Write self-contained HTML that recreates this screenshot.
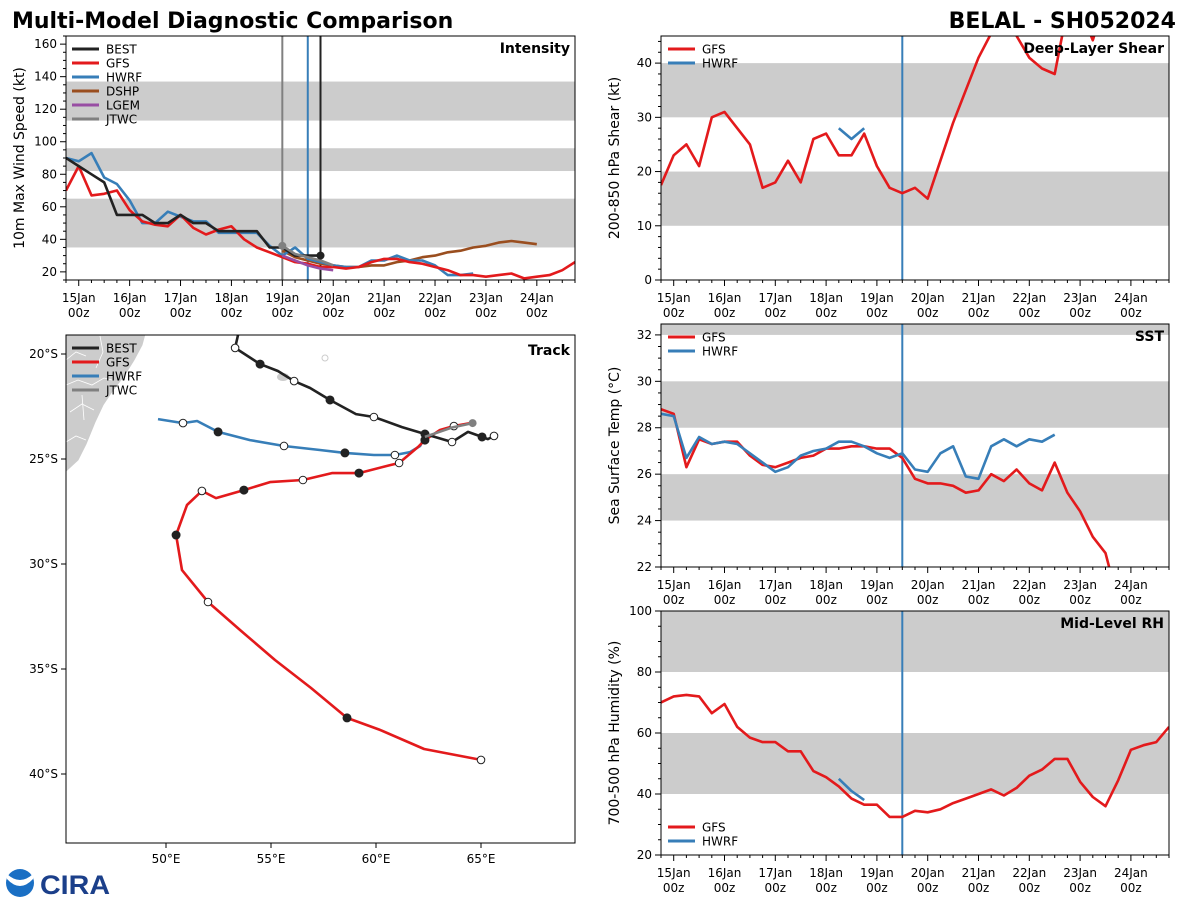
<!DOCTYPE html>
<html><head><meta charset="utf-8"><style>
body{margin:0;background:#fff;}
svg{display:block;font-family:"DejaVu Sans","Liberation Sans",sans-serif;}
</style></head><body>
<svg id="fig" width="1200" height="900" viewBox="0 0 1200 900" xmlns="http://www.w3.org/2000/svg">
<text x="12" y="28" font-size="22" font-weight="bold" font-family="DejaVu Sans, sans-serif">Multi-Model Diagnostic Comparison</text>
<text x="1176" y="28" font-size="22" font-weight="bold" text-anchor="end" font-family="DejaVu Sans, sans-serif">BELAL - SH052024</text>
<g>
<circle cx="20" cy="883" r="14" fill="#1a6fc4"/>
<path d="M7,879 Q20,893 33,879 L33,874 Q20,886 7,874 Z" fill="#fff"/>
<text x="40" y="894" font-size="27" font-weight="bold" fill="#1b3f8a" font-family="Liberation Sans, sans-serif" textLength="70" lengthAdjust="spacingAndGlyphs">CIRA</text>
</g>
</svg>
<script>
// ---------------- data ----------------
const dayLabels = ["15Jan","16Jan","17Jan","18Jan","19Jan","20Jan","21Jan","22Jan","23Jan","24Jan"];
const intBest = [90,85,80,75,55,55,55,50,50,55,50,50,45,45,45,45,35,35,30,30,30];
const intGfs = [70,85,67,68,70,58,51,49,48,55,47,43,46,48,40,35,32,29,26,25,23,23,22,23,26,28,28,26,25,23,21,18,18,17,18,19,16,17,18,21,26];
const intHwrf = [90,88,93,78,74,64,50,50,57,54,51,51,44,44,44,44,36,30,35,28,26,24,23,23,27,27,30,27,27,24,18,18,19];
const intDshp = [33,29,27,25,24,23,23,24,24,26,27,29,30,32,33,35,36,38,39,38,37];
const intLgem = [30,27,24,22,21];
const intJtwc = [36,31,29,27,24];
const shearGfs = [17.5,23,25,21,30,31,28,25,17,18,22,18,26,27,23,23,27,21,17,16,17,15,22,29,35,41,45.5,50,45,41,39,38,50,50,44.2,52,52,52,52,52,52];
const shearHwrf = [28,26,28];
const sstGfs = [28.8,28.6,26.3,27.5,27.3,27.4,27.4,26.8,26.4,26.3,26.5,26.7,26.8,27.1,27.1,27.2,27.2,27.1,27.1,26.7,25.8,25.6,25.6,25.5,25.2,25.3,26.0,25.7,26.2,25.6,25.3,26.5,25.2,24.4,23.3,22.6,20.5,20.5,20.5,20.5,20.5];
const sstHwrf = [28.6,28.5,26.7,27.6,27.3,27.4,27.3,26.9,26.5,26.1,26.3,26.8,27.0,27.1,27.4,27.4,27.2,26.9,26.7,26.9,26.2,26.1,26.9,27.2,25.9,25.8,27.2,27.5,27.2,27.5,27.4,27.7];
const rhGfs = [70,72,72.5,72,66.5,69.5,62,58.5,57,57,54,54,47.5,45.5,42.5,38.5,36.5,36.5,32.5,32.5,34.5,34,35,37,38.5,40,41.5,39.5,42,46,48,51.5,51.5,44,39,36,44.5,54.5,56,57,62];
const rhHwrf = [45,41,38];
const bestLon = [53.43,53.29,54.48,55.33,56.10,56.86,57.81,59.05,59.90,61.24,62.33,63.62,64.38,65.05,65.33,65.62];
const bestLat = [19.10,19.71,20.48,20.81,21.29,21.62,22.19,22.86,23.00,23.48,23.81,24.19,23.71,23.95,24.05,23.90];
const bestMark = [0,1,2,0,1,0,2,0,1,0,2,1,0,2,0,1];
const hwrfLon = [49.62,50.81,51.48,52.48,54.00,55.62,57.33,58.52,59.90,60.90,61.62,62.10,62.33];
const hwrfLat = [23.10,23.29,23.19,23.71,24.10,24.38,24.57,24.71,24.81,24.81,24.67,24.38,23.95];
const hwrfMark = [0,1,0,2,0,1,0,2,0,1,0,0,0];
const gfsLon = [64.48,63.71,63.05,62.33,62.00,61.10,60.67,59.19,57.90,56.52,54.95,53.71,52.38,51.71,51.00,50.48,50.76,52.00,53.52,55.19,56.90,58.62,60.19,62.29,65.00];
const gfsLat = [23.29,23.43,23.62,24.10,24.43,25.19,25.29,25.67,25.67,26.00,26.10,26.48,26.86,26.52,27.19,28.62,30.29,31.81,33.14,34.57,35.90,37.33,37.90,38.81,39.33];
const gfsMark = [0,1,0,2,0,1,0,2,0,1,0,2,0,1,0,2,0,1,0,0,0,2,0,0,1];
const jtwcLon = [62.33,63.05,63.62,64.60];
const jtwcLat = [23.95,23.70,23.50,23.29];
const lonTicks = [50,55,60,65];
const latTicks = [20,25,30,35,40];

// ---------------- helpers ----------------
const svg = document.getElementById('fig');
const NS = 'http://www.w3.org/2000/svg';
function mk(tag, name, attrs, parent) {
  const el = document.createElementNS(NS, tag);
  
  
  for (const k in attrs) el.setAttribute(k, attrs[k]);
  (parent || svg).appendChild(el);
  return el;
}
function txt(name, x, y, s, attrs, parent) {
  const el = mk('text', name, Object.assign({x: x, y: y, 'font-size': 12}, attrs || {}), parent);
  el.textContent = s;
  return el;
}
const C = {best:'#222222', gfs:'#e31a1c', hwrf:'#377eb8', dshp:'#9a4e1f', lgem:'#984ea3', jtwc:'#808080'};
let clipId = 0;

function tsPanel(p) {
  const g = mk('g', p.name, {});
  const xs = d => p.x0 + (d + 0.25) / 10 * (p.x1 - p.x0);
  const ys = v => p.y1 - (v - p.ymin) / (p.ymax - p.ymin) * (p.y1 - p.y0);
  p.xs = xs; p.ys = ys;
  const cid = 'clip' + (clipId++);
  const cp = mk('clipPath', 'clip-region', {id: cid}, g);
  mk('rect', 'clip-rect', {x: p.x0, y: p.y0, width: p.x1 - p.x0, height: p.y1 - p.y0}, cp);
  p.bands.forEach(b => {
    const t = ys(Math.min(b[1], p.ymax)), bt = ys(b[0]);
    mk('rect', 'threshold-band', {x: p.x0, y: t, width: p.x1 - p.x0, height: bt - t, fill: '#cccccc'}, g);
  });
  const plot = mk('g', 'plot-area', {'clip-path': 'url(#' + cid + ')'}, g);
  p.plot = plot;
  for (let i = -1; i <= 40; i++) {
    const d = i * 0.25;
    const x = xs(d);
    if (x < p.x0 - 0.5 || x > p.x1 + 0.5) continue;
    const major = i % 4 === 0;
    mk('line', major ? 'x-major-tick' : 'x-minor-tick', {x1: x, x2: x, y1: p.y1, y2: p.y1 + (major ? 6 : 3), stroke: '#000', 'stroke-width': 1}, g);
    if (major) {
      txt('x-tick-date', x, p.y1 + 22, dayLabels[i / 4], {'text-anchor': 'middle'}, g);
      txt('x-tick-hour', x, p.y1 + 37, '00z', {'text-anchor': 'middle'}, g);
    }
  }
  for (let v = p.ymin; v <= p.ymax + 1e-6; v += p.minor) {
    const vv = Math.round(v * 100) / 100;
    const y = ys(vv);
    const major = Math.abs((vv - p.majorStart) / p.major - Math.round((vv - p.majorStart) / p.major)) < 1e-6 && vv >= p.majorStart;
    mk('line', major ? 'y-major-tick' : 'y-minor-tick', {x1: p.x0, x2: p.x0 - (major ? 6 : 3), y1: y, y2: y, stroke: '#000', 'stroke-width': 1}, g);
    if (major) txt('y-tick-label', p.x0 - 9, y + 4, String(vv), {'text-anchor': 'end'}, g);
  }
  mk('rect', 'axes-frame', {x: p.x0, y: p.y0, width: p.x1 - p.x0, height: p.y1 - p.y0, fill: 'none', stroke: '#000', 'stroke-width': 1}, g);
  const cy = (p.y0 + p.y1) / 2, lx = p.x0 - 42;
  txt('y-axis-title', lx, cy, p.ytitle, {'text-anchor': 'middle', 'font-size': 14, transform: 'rotate(-90 ' + lx + ' ' + cy + ')'}, g);
  txt('panel-title', p.x1 - 5, p.y0 + 17, p.title, {'text-anchor': 'end', 'font-size': 14, 'font-weight': 'bold', 'font-family': 'DejaVu Sans, sans-serif'}, g);
  return p;
}
function series(p, name, vals, start, color) {
  const pts = vals.map((v, i) => p.xs(start + i * 0.25).toFixed(1) + ',' + p.ys(v).toFixed(1)).join(' ');
  mk('polyline', name, {points: pts, fill: 'none', stroke: color, 'stroke-width': 2.6, 'stroke-linejoin': 'round'}, p.plot);
}
function vline(p, name, d, color) {
  const x = p.xs(d);
  mk('line', name, {x1: x, x2: x, y1: p.y0, y2: p.y1, stroke: color, 'stroke-width': 2}, p.plot);
}
function legend(parent, x, y, items) {
  const g = mk('g', 'legend', {}, parent);
  items.forEach((it, i) => {
    const yy = y + i * 14;
    const e = mk('g', 'legend-entry', {}, g);
    mk('line', 'legend-swatch', {x1: x, x2: x + 27, y1: yy, y2: yy, stroke: it[1], 'stroke-width': 3}, e);
    txt('legend-label', x + 34, yy + 4.5, it[0], {}, e);
  });
}

// ---------------- intensity ----------------
const PI = tsPanel({name: 'intensity-panel', x0: 66, x1: 575, y0: 36, y1: 280, ymin: 15, ymax: 165, minor: 5, major: 20, majorStart: 20,
  bands: [[35, 65], [82, 96], [113, 137]], ytitle: '10m Max Wind Speed (kt)', title: 'Intensity'});
vline(PI, 'jtwc-init-line', 4.0, '#808080');
vline(PI, 'hwrf-init-line', 4.5, C.hwrf);
vline(PI, 'best-end-line', 4.75, C.best);
series(PI, 'dshp-line', intDshp, 4.0, C.dshp);
series(PI, 'hwrf-line', intHwrf, -0.25, C.hwrf);
series(PI, 'gfs-line', intGfs, -0.25, C.gfs);
series(PI, 'lgem-line', intLgem, 4.0, C.lgem);
series(PI, 'best-line', intBest, -0.25, C.best);
series(PI, 'jtwc-line', intJtwc, 4.0, C.jtwc);
mk('circle', 'best-end-marker', {cx: PI.xs(4.75), cy: PI.ys(intBest[intBest.length - 1]), r: 4, fill: C.best}, PI.plot);
mk('circle', 'jtwc-init-marker', {cx: PI.xs(4.0), cy: PI.ys(intJtwc[0]), r: 4, fill: C.jtwc}, PI.plot);
legend(svg, 72, 49, [['BEST', C.best], ['GFS', C.gfs], ['HWRF', C.hwrf], ['DSHP', C.dshp], ['LGEM', C.lgem], ['JTWC', C.jtwc]]);

// ---------------- shear ----------------
const PS = tsPanel({name: 'shear-panel', x0: 661, x1: 1169, y0: 36, y1: 280, ymin: 0, ymax: 45, minor: 2, major: 10, majorStart: 0,
  bands: [[10, 20], [30, 40]], ytitle: '200-850 hPa Shear (kt)', title: 'Deep-Layer Shear'});
vline(PS, 'init-time-line', 4.5, C.hwrf);
series(PS, 'gfs-shear-line', shearGfs, -0.25, C.gfs);
series(PS, 'hwrf-shear-line', shearHwrf, 3.25, C.hwrf);
legend(svg, 668, 49, [['GFS', C.gfs], ['HWRF', C.hwrf]]);

// ---------------- SST ----------------
const PT = tsPanel({name: 'sst-panel', x0: 661, x1: 1169, y0: 324, y1: 567, ymin: 22, ymax: 32.47, minor: 0.5, major: 2, majorStart: 22,
  bands: [[24, 26], [28, 30], [32, 33]], ytitle: 'Sea Surface Temp (°C)', title: 'SST'});
vline(PT, 'init-time-line', 4.5, C.hwrf);
series(PT, 'gfs-sst-line', sstGfs, -0.25, C.gfs);
series(PT, 'hwrf-sst-line', sstHwrf, -0.25, C.hwrf);
legend(svg, 668, 337, [['GFS', C.gfs], ['HWRF', C.hwrf]]);

// ---------------- RH ----------------
const PR = tsPanel({name: 'rh-panel', x0: 661, x1: 1169, y0: 611, y1: 855, ymin: 20, ymax: 100, minor: 5, major: 20, majorStart: 20,
  bands: [[40, 60], [80, 100]], ytitle: '700-500 hPa Humidity (%)', title: 'Mid-Level RH'});
vline(PR, 'init-time-line', 4.5, C.hwrf);
series(PR, 'gfs-rh-line', rhGfs, -0.25, C.gfs);
series(PR, 'hwrf-rh-line', rhHwrf, 3.25, C.hwrf);
legend(svg, 668, 827, [['GFS', C.gfs], ['HWRF', C.hwrf]]);

// ---------------- track map ----------------
const M = {x0: 66, x1: 575, y0: 335, y1: 843};
const mx = lon => 166 + (lon - 50) * 21;
const my = lat => 354 + (lat - 20) * 21;
const gm = mk('g', 'track-panel', {});
const mcp = mk('clipPath', 'map-clip', {id: 'mapclip'}, gm);
mk('rect', 'map-clip-rect', {x: M.x0, y: M.y0, width: M.x1 - M.x0, height: M.y1 - M.y0}, mcp);
const mp = mk('g', 'map-area', {'clip-path': 'url(#mapclip)'}, gm);
mk('path', 'madagascar-land', {d: 'M60,330 L146,330 L142,345 L134,360 L124,376 L113,390 L103,405 L95,422 L86,444 L78,460 L66,471 L60,472 Z', fill: '#cccccc', stroke: '#cccccc'}, mp);
mk('path', 'province-borders', {d: 'M66,360 L76,352 L86,356 M66,385 L78,380 L92,385 L104,378 L112,380 M70,412 L82,404 L94,410 M66,442 L76,436 L86,440 M100,336 L103,352 L96,368 M82,395 L84,420', fill: 'none', stroke: '#fff', 'stroke-width': 0.8}, mp);
mk('ellipse', 'reunion-island', {cx: 283, cy: 377, rx: 6, ry: 4, fill: '#cccccc'}, mp);
mk('circle', 'mauritius-island', {cx: 325, cy: 358, r: 3, fill: 'none', stroke: '#ccc', 'stroke-width': 1}, mp);
function track(name, lons, lats, color, marks) {
  const pts = lons.map((l, i) => mx(l).toFixed(1) + ',' + my(lats[i]).toFixed(1)).join(' ');
  mk('polyline', name, {points: pts, fill: 'none', stroke: color, 'stroke-width': 2.6, 'stroke-linejoin': 'round'}, mp);
  if (marks) marks.forEach((m, i) => {
    if (m === 0) return;
    mk('circle', name + '-marker', {cx: mx(lons[i]), cy: my(lats[i]), r: m === 2 ? 4 : 3.8, fill: m === 2 ? '#222' : '#fff', stroke: '#222', 'stroke-width': 1}, mp);
  });
}
track('hwrf-track', hwrfLon, hwrfLat, C.hwrf, hwrfMark);
track('gfs-track', gfsLon, gfsLat, C.gfs, gfsMark);
track('best-track', bestLon, bestLat, C.best, bestMark);
track('jtwc-track', jtwcLon, jtwcLat, C.jtwc, null);
mk('circle', 'jtwc-track-marker', {cx: mx(jtwcLon[3]), cy: my(jtwcLat[3]), r: 4, fill: C.jtwc}, mp);
mk('rect', 'map-frame', {x: M.x0, y: M.y0, width: M.x1 - M.x0, height: M.y1 - M.y0, fill: 'none', stroke: '#000', 'stroke-width': 1}, gm);
lonTicks.forEach(l => {
  const x = mx(l);
  mk('line', 'lon-tick', {x1: x, x2: x, y1: M.y1, y2: M.y1 + 5, stroke: '#000'}, gm);
  txt('lon-tick-label', x, M.y1 + 20, l + '°E', {'text-anchor': 'middle'}, gm);
});
latTicks.forEach(l => {
  const y = my(l);
  mk('line', 'lat-tick', {x1: M.x0, x2: M.x0 - 5, y1: y, y2: y, stroke: '#000'}, gm);
  txt('lat-tick-label', M.x0 - 8, y + 4, l + '°S', {'text-anchor': 'end'}, gm);
});
txt('panel-title', M.x1 - 5, M.y0 + 20, 'Track', {'text-anchor': 'end', 'font-size': 14, 'font-weight': 'bold', 'font-family': 'DejaVu Sans, sans-serif'}, gm);
legend(svg, 72, 348, [['BEST', C.best], ['GFS', C.gfs], ['HWRF', C.hwrf], ['JTWC', C.jtwc]]);
</script>
</body></html>
